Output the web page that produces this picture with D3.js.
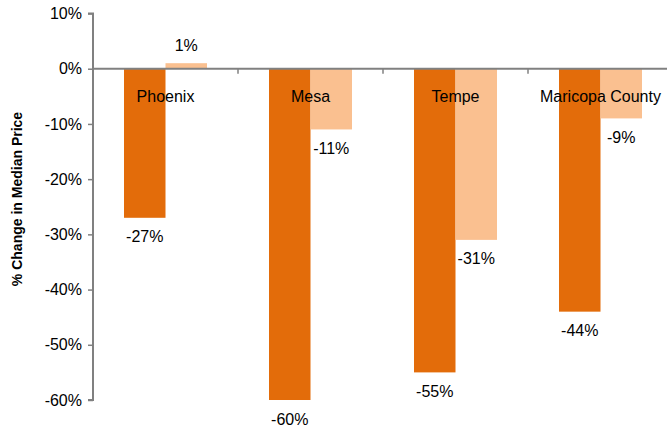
<!DOCTYPE html>
<html>
<head>
<meta charset="utf-8">
<script src="https://cdn.jsdelivr.net/npm/d3@7/dist/d3.min.js"></script>
<style>
  body { margin: 0; background: #fff; }
  svg { display: block; font-family: "Liberation Sans", Arial, sans-serif; }
</style>
</head>
<body>
<svg id="chart" width="667" height="427"></svg>
<script>
// Median price change by city, two periods
const categories = ["Phoenix", "Mesa", "Tempe", "Maricopa County"];
const seriesA = [-27, -60, -55, -44];
const seriesB = [1, -11, -31, -9];
const tickValues = [10, 0, -10, -20, -30, -40, -50, -60];

const svg = d3.select("#chart");
const left = 93, bandW = 145;

const y = d3.scaleLinear().domain([-60, 10]).range([400, 13.5]);
const x = d3.scaleBand().domain(categories).range([left, left + bandW * categories.length]);
const inner = d3.scaleBand().domain(["a", "b"]).range([-41.5, 41.5]);

const colors = { a: "#E36C0A", b: "#FAC090" };

// y axis
const yAxis = d3.axisLeft(y).tickValues(tickValues).tickSize(5).tickPadding(6)
  .tickFormat(d => d + "%");
const gy = svg.append("g").attr("transform", `translate(${left},0)`).call(yAxis);
gy.select(".domain").attr("stroke", "#808080").attr("stroke-width", 2).attr("d", `M-5,${y(10)}H0V${y(-60)}H-5`);
gy.selectAll(".tick line").attr("stroke", "#808080").attr("stroke-width", 1.5);
gy.selectAll(".tick text").attr("font-size", 16).attr("fill", "#000")
  .attr("font-family", "'Liberation Sans', Arial, sans-serif");

// bars
const rows = categories.map((c, i) => ({ c, a: seriesA[i], b: seriesB[i] }));
const groups = svg.append("g").selectAll("g").data(rows).join("g")
  .attr("transform", d => `translate(${x(d.c) + x.bandwidth() / 2},0)`);

["a", "b"].forEach(k => {
  groups.append("rect")
    .attr("x", inner(k))
    .attr("width", inner.bandwidth())
    .attr("y", d => y(Math.max(0, d[k])))
    .attr("height", d => Math.abs(y(d[k]) - y(0)))
    .attr("fill", colors[k]);
  groups.append("text")
    .attr("x", inner(k) + inner.bandwidth() / 2)
    .attr("y", d => d[k] >= 0 ? y(d[k]) - 18 : y(d[k]) + 19)
    .attr("dy", "0.35em")
    .attr("text-anchor", "middle")
    .attr("font-size", 16)
    .text(d => d[k] + "%");
});

// zero line with category ticks
const gx = svg.append("g");
gx.append("line").attr("x1", left).attr("x2", 667).attr("y1", y(0)).attr("y2", y(0))
  .attr("stroke", "#808080").attr("stroke-width", 2);
gx.selectAll("line.tk").data(categories.slice(1)).join("line").attr("class", "tk")
  .attr("x1", d => x(d)).attr("x2", d => x(d))
  .attr("y1", y(0)).attr("y2", y(0) + 5)
  .attr("stroke", "#808080").attr("stroke-width", 1.5);

// category labels
svg.append("g").selectAll("text").data(categories).join("text")
  .attr("x", d => x(d) + x.bandwidth() / 2)
  .attr("y", y(0) + 28)
  .attr("dy", "0.35em")
  .attr("text-anchor", "middle")
  .attr("font-size", 16)
  .text(d => d);

// y axis title
svg.append("text")
  .attr("transform", "translate(17,199) rotate(-90)")
  .attr("text-anchor", "middle")
  .attr("dy", "0.35em")
  .attr("font-size", 14)
  .attr("font-weight", "bold")
  .text("% Change in Median Price");
</script>
</body>
</html>
